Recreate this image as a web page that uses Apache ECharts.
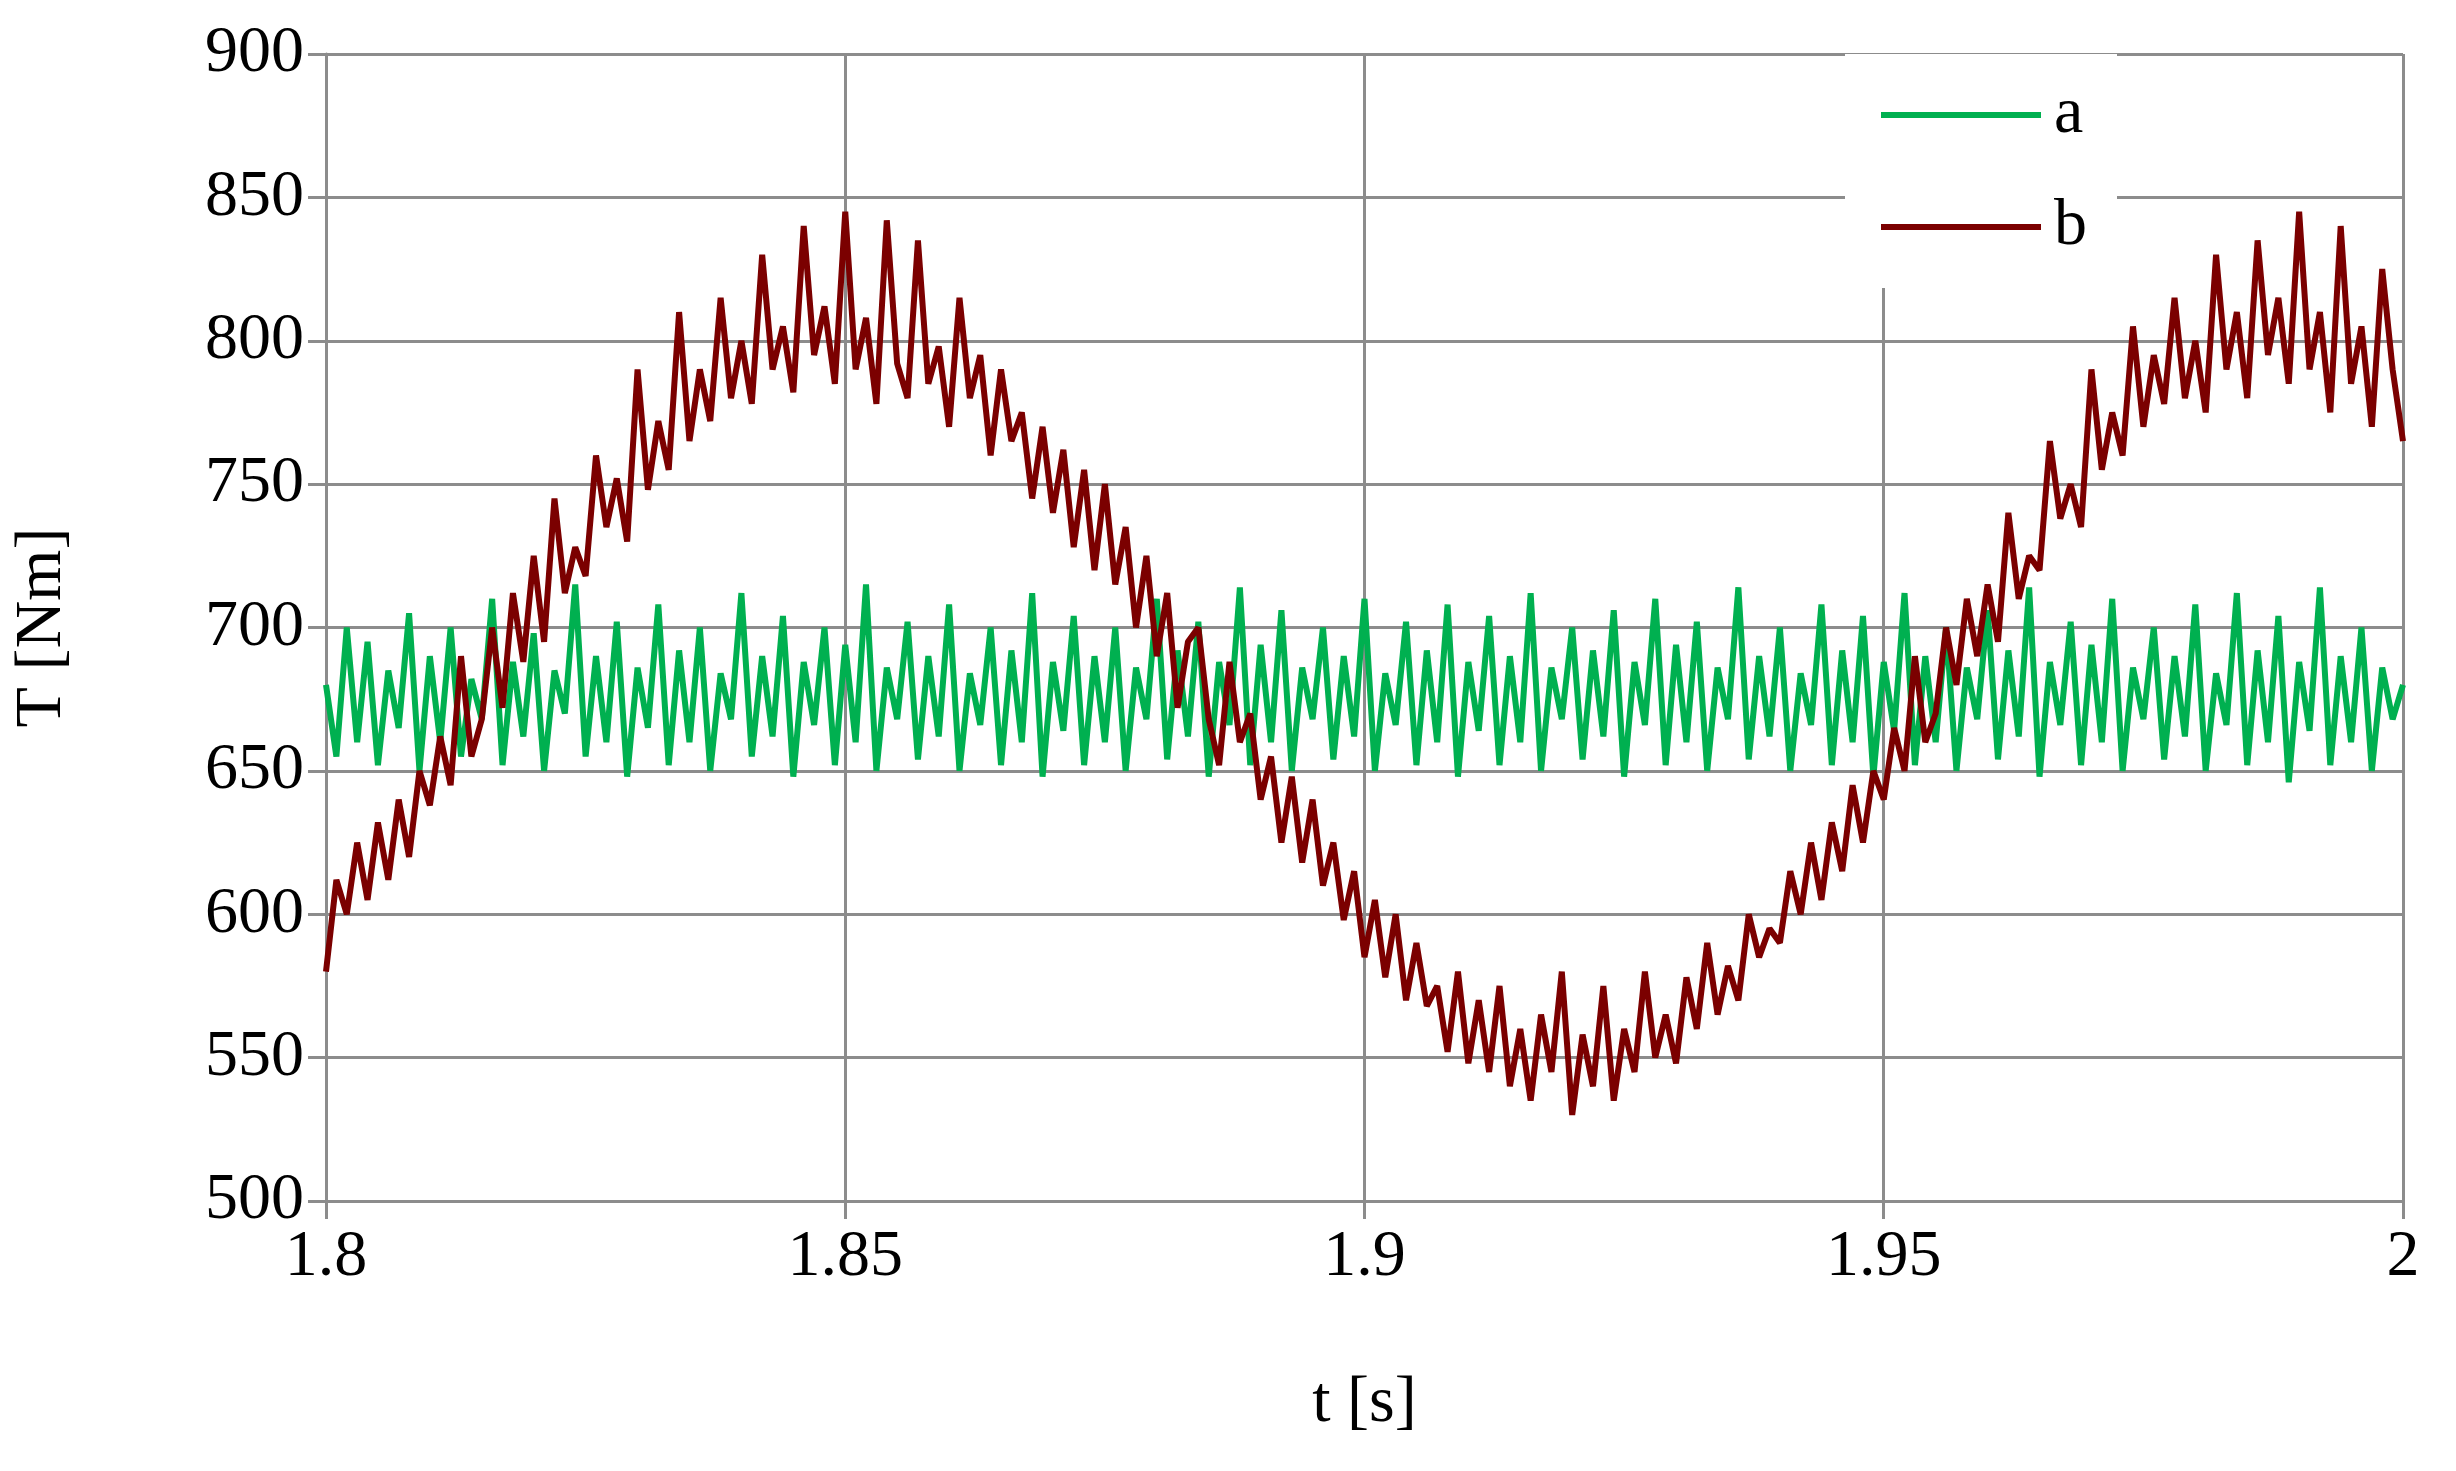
<!DOCTYPE html>
<html>
<head>
<meta charset="utf-8">
<script src="https://cdn.jsdelivr.net/npm/echarts@6/dist/echarts.min.js"></script>
<style>html,body{margin:0;padding:0;background:#fff}#c{width:2456px;height:1471px}</style>
</head>
<body>
<div id="c"></div>
<script>
// sampled every 1 ms from t = 1.8 s
var tStart = 1.8, tStep = 0.001;
var xTicks = ['1.8', '1.85', '1.9', '1.95', '2'];
var seriesNames = ['a', 'b'];

var valuesA = [
    680,655,700,660,695,652,685,665,705,650,
    690,660,700,655,682,668,710,652,688,662,
    698,650,685,670,715,655,690,660,702,648,
    686,665,708,652,692,660,700,650,684,668,
    712,655,690,662,704,648,688,666,700,652,
    694,660,715,650,686,668,702,654,690,662,
    708,650,684,666,700,652,692,660,712,648,
    688,664,704,652,690,660,700,650,686,668,
    710,654,692,662,702,648,688,666,714,652,
    694,660,706,650,686,668,700,654,690,662,
    710,650,684,666,702,652,692,660,708,648,
    688,664,704,652,690,660,712,650,686,668,
    700,654,692,662,706,648,688,666,710,652,
    694,660,702,650,686,668,714,654,690,662,
    700,650,684,666,708,652,692,660,704,648,
    688,664,712,652,690,660,700,650,686,668,
    706,654,692,662,714,648,688,666,702,652,
    694,660,710,650,686,668,700,654,690,662,
    708,650,684,666,712,652,692,660,704,646,
    688,664,714,652,690,660,700,650,686,668,
    680
];

var valuesB = [
    580,612,600,625,605, 632,612,640,620,650,
    638,662,645,690,655, 668,700,672,712,688,
    725,695,745,712,728, 718,760,735,752,730,
    790,748,772,755,810, 765,790,772,815,780,
    800,778,830,790,805, 782,840,795,812,785,
    845,790,808,778,842, 792,780,835,785,798,
    770,815,780,795,760, 790,765,775,745,770,
    740,762,728,755,720, 750,715,735,700,725,
    690,712,672,695,700, 668,652,688,660,670,
    640,655,625,648,618, 640,610,625,598,615,
    585,605,578,600,570, 590,568,575,552,580,
    548,570,545,575,540, 560,535,565,545,580,
    530,558,540,575,535, 560,545,580,550,565,
    548,578,560,590,565, 582,570,600,585,595,
    590,615,600,625,605, 632,615,645,625,650,
    640,665,650,690,660, 670,700,680,710,690,
    715,695,740,710,725, 720,765,738,750,735,
    790,755,775,760,805, 770,795,778,815,780,
    800,775,830,790,810, 780,835,795,815,785,
    845,790,810,775,840, 785,805,770,825,790,
    765
];

function pairs(vals) {
    var out = [];
    for (var i = 0; i < vals.length; i++) {
        out.push([+(tStart + i * tStep).toFixed(4), vals[i]]);
    }
    return out;
}

var font = 'Liberation Serif';
var gridColor = '#8c8c8c';
var chart = echarts.init(document.getElementById('c'));

chart.setOption({
    animation: false,
    backgroundColor: '#fff',
    grid: { left: 326, right: 53, top: 54, bottom: 270 },
    legend: {
        left: 1845, top: 54, width: 280, height: 230,
        orient: 'vertical',
        padding: [28, 30, 28, 36],
        itemGap: 46,
        backgroundColor: '#fff',
        icon: 'rect',
        itemWidth: 160, itemHeight: 6,
        textStyle: { fontFamily: font, fontSize: 66, color: '#000', padding: [0, 0, 0, 8] },
        data: seriesNames
    },
    xAxis: {
        type: 'value', min: 1.8, max: 2, interval: 0.05,
        name: 't [s]', nameLocation: 'middle', nameGap: 170,
        nameTextStyle: { fontFamily: font, fontSize: 66, color: '#000' },
        axisLine: { lineStyle: { color: gridColor, width: 3 } },
        axisTick: { show: true, length: 18, lineStyle: { color: gridColor, width: 3 } },
        axisLabel: {
            fontFamily: font, fontSize: 66, color: '#000', margin: 24,
            formatter: function(v) {
                var idx = Math.round((v - 1.8) / 0.05);
                return xTicks[idx] || '';
            }
        },
        splitLine: { show: true, lineStyle: { color: gridColor, width: 3 } }
    },
    yAxis: {
        type: 'value', min: 500, max: 900, interval: 50,
        name: 'T [Nm]', nameLocation: 'middle', nameGap: 250, nameRotate: 90,
        nameTextStyle: { fontFamily: font, fontSize: 66, color: '#000' },
        axisLine: { show: true, lineStyle: { color: gridColor, width: 3 } },
        axisTick: { show: true, length: 18, lineStyle: { color: gridColor, width: 3 } },
        axisLabel: { fontFamily: font, fontSize: 66, color: '#000', margin: 22 },
        splitLine: { show: true, lineStyle: { color: gridColor, width: 3 } }
    },
    series: [
        {
            name: 'a', type: 'line', showSymbol: false, z: 2,
            itemStyle: { color: '#00b050' },
            lineStyle: { color: '#00b050', width: 6 },
            data: pairs(valuesA)
        },
        {
            name: 'b', type: 'line', showSymbol: false, z: 3,
            itemStyle: { color: '#7b0000' },
            lineStyle: { color: '#7b0000', width: 6 },
            data: pairs(valuesB)
        }
    ]
});
</script>
</body>
</html>
